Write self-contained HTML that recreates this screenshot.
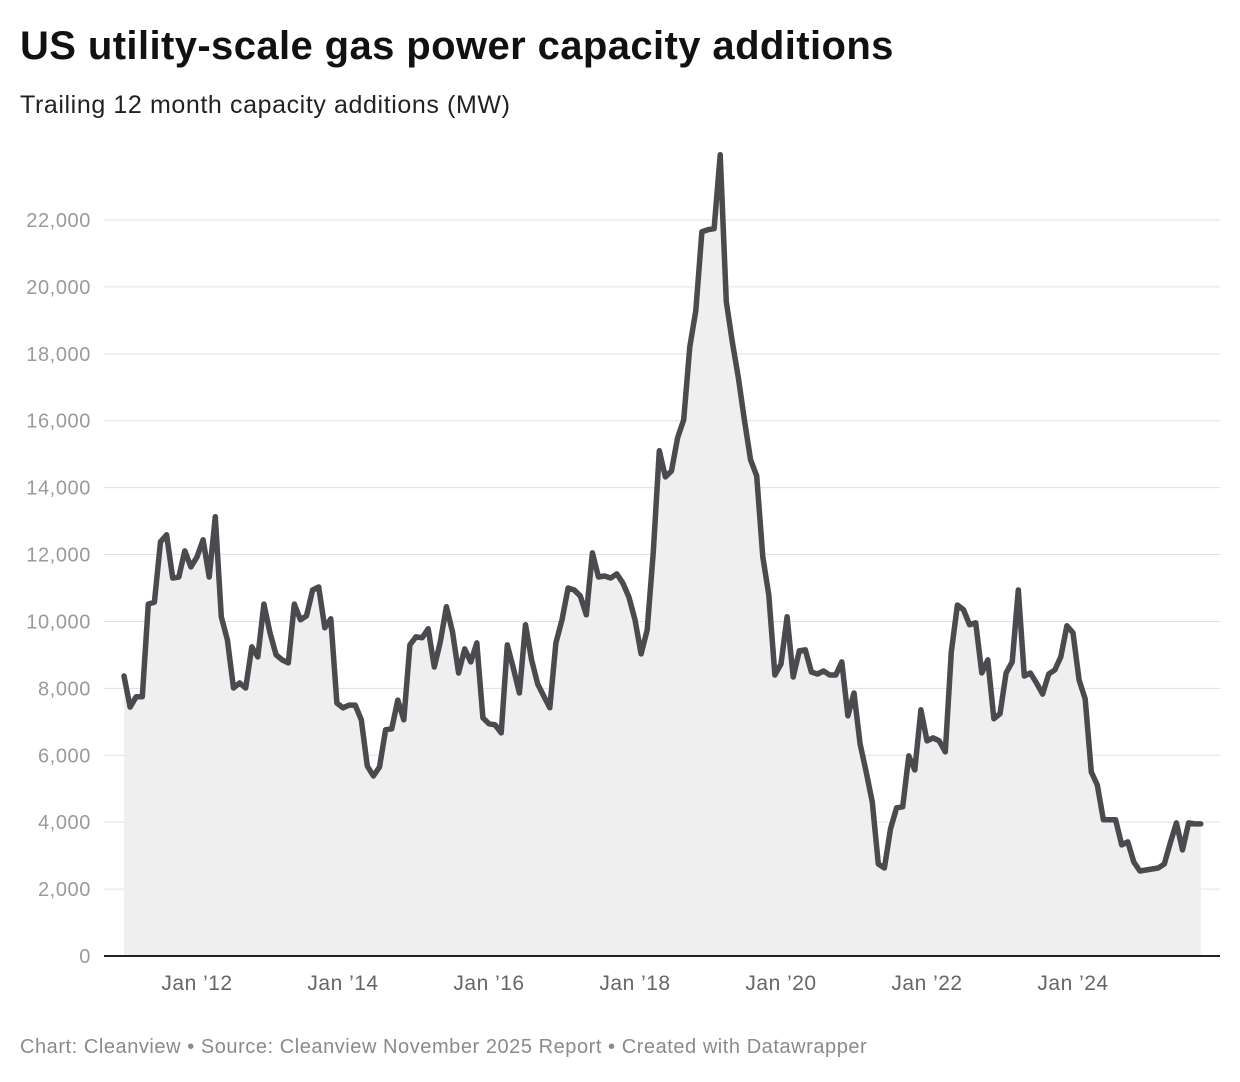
<!DOCTYPE html>
<html><head><meta charset="utf-8">
<style>
body{margin:0;background:#fff;width:1240px;height:1082px;overflow:hidden;font-family:"Liberation Sans",sans-serif;}
#title{position:absolute;left:20px;top:24px;font-size:40px;font-weight:bold;color:#111;margin:0;letter-spacing:0.4px}
#sub{position:absolute;left:20px;top:91px;font-size:25px;color:#222;letter-spacing:0.6px}
#foot{position:absolute;left:20px;top:1036px;font-size:20px;color:#8a8a8a;letter-spacing:0.55px}
svg{position:absolute;left:0;top:0}
</style></head><body>
<h1 id="title">US utility-scale gas power capacity additions</h1>
<div id="sub">Trailing 12 month capacity additions (MW)</div>
<svg id="chart" width="1240" height="1082"></svg>
<div id="foot">Chart: Cleanview • Source: Cleanview November 2025 Report • Created with Datawrapper</div>
<script>
// monthly values starting Jan 2011
const values=[8370,7440,7750,7750,10520,10580,12380,12590,11300,11330,12110,11630,11930,12440,11330,13130,10140,9450,8010,8160,8010,9240,8940,10520,9660,9000,8850,8760,10520,10050,10170,10940,11030,9810,10080,7560,7420,7500,7500,7060,5680,5380,5650,6760,6790,7650,7060,9300,9540,9510,9780,8640,9390,10440,9690,8460,9180,8790,9360,7120,6940,6910,6670,9300,8610,7860,9900,8850,8130,7770,7420,9360,10050,11000,10940,10760,10200,12050,11330,11360,11300,11420,11150,10730,10050,9030,9750,12080,15100,14320,14500,15490,16030,18210,19290,21650,21710,21740,23950,19560,18360,17280,16000,14830,14350,11930,10790,8400,8730,10140,8340,9120,9150,8490,8430,8520,8400,8400,8790,7180,7860,6340,5500,4600,2750,2630,3800,4430,4460,5980,5560,7360,6430,6520,6430,6100,9090,10490,10350,9900,9960,8460,8850,7090,7240,8460,8790,10940,8370,8460,8160,7830,8430,8550,8940,9870,9660,8250,7680,5500,5110,4070,4070,4070,3320,3410,2810,2540,2570,2600,2630,2750,3380,3980,3170,3980,3950,3950];
const yTicks=[0,2000,4000,6000,8000,10000,12000,14000,16000,18000,20000,22000];
const xTickMonths=[12,36,60,84,108,132,156];
const xTickLabels=["Jan ’12","Jan ’14","Jan ’16","Jan ’18","Jan ’20","Jan ’22","Jan ’24"];
const NS="http://www.w3.org/2000/svg";
const svg=document.getElementById('chart');
const x=i=>124+i*(1073-124)/156;
const y=v=>956-v*(956-220)/22000;
function mk(t,a){const e=document.createElementNS(NS,t);for(const k in a)e.setAttribute(k,a[k]);svg.appendChild(e);return e;}
yTicks.forEach(v=>{
  if(v>0){const g=mk('line',{x1:104,x2:1220,y1:y(v),y2:y(v),stroke:'#e0e0e0','stroke-width':1});
  
  }
  const t=mk('text',{x:91,y:y(v)+7,'text-anchor':'end','font-size':20,fill:'#9a9a9a','letter-spacing':0.6,'font-family':'Liberation Sans, sans-serif'});
  t.textContent=v.toLocaleString('en-US');
  
  
});
let pts=values.map((v,i)=>x(i).toFixed(1)+','+y(v).toFixed(1));
const area=mk('polygon',{points:x(0)+','+y(0)+' '+pts.join(' ')+' '+x(values.length-1)+','+y(0),fill:'#efefef'});


const ax=mk('line',{x1:104,x2:1220,y1:956,y2:956,stroke:'#222','stroke-width':2});


const line=mk('polyline',{points:pts.join(' '),fill:'none',stroke:'#4a4a4f','stroke-width':5.5,'stroke-linejoin':'round','stroke-linecap':'round'});


xTickMonths.forEach((m,k)=>{
  const t=mk('text',{x:x(m),y:990,'text-anchor':'middle','font-size':21,fill:'#666','letter-spacing':0.5,'font-family':'Liberation Sans, sans-serif'});
  t.textContent=xTickLabels[k];
  
  
});
</script>
</body></html>
